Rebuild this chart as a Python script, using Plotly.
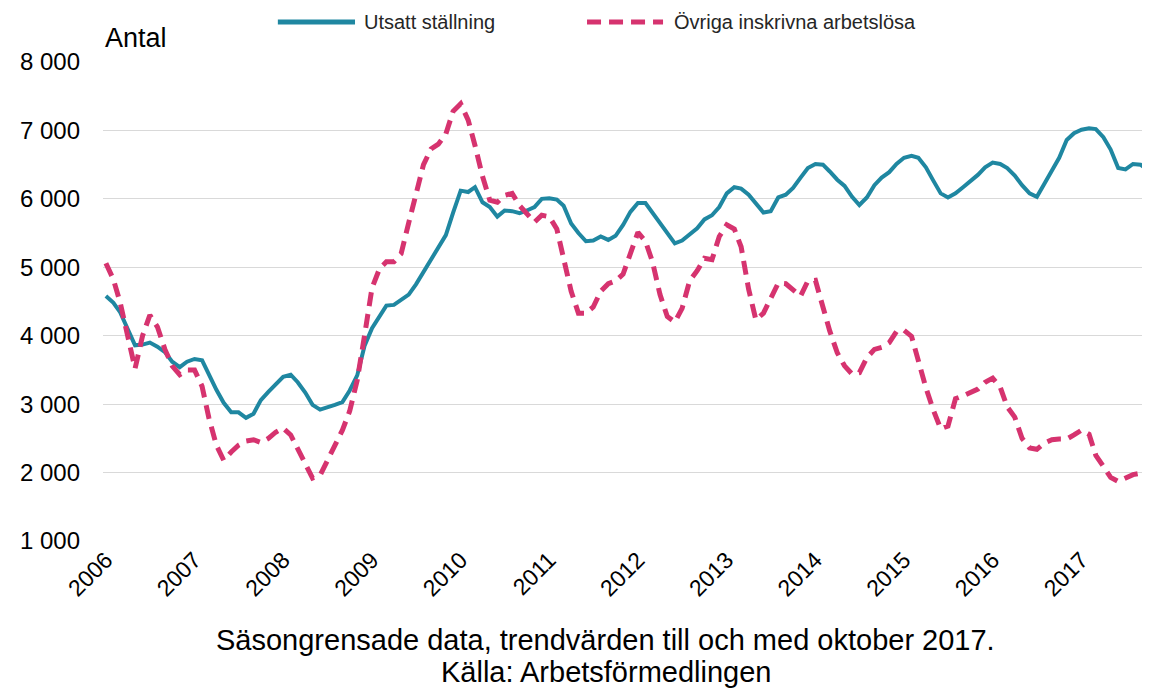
import pandas as pd
import plotly.graph_objects as go

# Monthly trend values, Jan 2006 - Oct 2017
months = pd.date_range("2006-01-01", "2017-10-01", freq="MS")

utsatt = [
    4580, 4480, 4340, 4080, 3860, 3870, 3900, 3840, 3760, 3620, 3540, 3620,  # 2006
    3660, 3640, 3420, 3210, 3020, 2880, 2880, 2800, 2860, 3060, 3180, 3280,  # 2007
    3400, 3430, 3320, 3170, 2990, 2920, 2950, 2990, 3030, 3200, 3420, 3850,  # 2008
    4110, 4290, 4440, 4450, 4530, 4600, 4750, 4930, 5110, 5290, 5470, 5800,  # 2009
    6120, 6100, 6170, 5950, 5880, 5740, 5830, 5820, 5790, 5830, 5880, 6000,  # 2010
    6010, 5990, 5900, 5640, 5500, 5380, 5390, 5450, 5400, 5460, 5620, 5810,  # 2011
    5940, 5940, 5800, 5650, 5490, 5350, 5390, 5480, 5570, 5700, 5760, 5880,  # 2012
    6080, 6170, 6150, 6060, 5930, 5800, 5820, 6020, 6060, 6160, 6310, 6450,  # 2013
    6510, 6500, 6400, 6280, 6190, 6030, 5910, 6020, 6200, 6310, 6390, 6510,  # 2014
    6600, 6630, 6600, 6460, 6270, 6080, 6020, 6080, 6170, 6250, 6350, 6460,  # 2015
    6530, 6510, 6450, 6340, 6200, 6080, 6030, 6220, 6400, 6600, 6860, 6960,  # 2016
    7010, 7030, 7020, 6900, 6720, 6450, 6430, 6510, 6500, 6420,              # 2017
]

ovriga = [
    5060, 4820, 4480, 4000, 3520, 4000, 4300, 4130, 3800, 3560, 3430, 3500,  # 2006
    3500, 3260, 2800, 2400, 2180, 2300, 2400, 2460, 2480, 2440, 2500, 2590,  # 2007
    2650, 2550, 2350, 2150, 1920, 1960, 2180, 2420, 2620, 2900, 3350, 4000,  # 2008
    4700, 4980, 5080, 5080, 5200, 5650, 6080, 6500, 6730, 6800, 6950, 7280,  # 2009
    7390, 7150, 6780, 6330, 5980, 5950, 6050, 6080, 5900, 5780, 5660, 5760,  # 2010
    5740, 5560, 5090, 4650, 4330, 4330, 4420, 4650, 4760, 4800, 4900, 5220,  # 2011
    5510, 5380, 5080, 4600, 4280, 4200, 4400, 4800, 4950, 5130, 5110, 5450,  # 2012
    5620, 5560, 5300, 4680, 4230, 4330, 4550, 4770, 4760, 4680, 4580, 4800,  # 2013
    4810, 4420, 4070, 3750, 3560, 3440, 3460, 3680, 3800, 3830, 3900, 4060,  # 2014
    4080, 3990, 3620, 3240, 2920, 2640, 2680, 3080, 3120, 3160, 3220, 3320,  # 2015
    3380, 3250, 2960, 2810, 2500, 2360, 2340, 2430, 2480, 2490, 2490, 2550,  # 2016
    2620, 2560, 2250, 2090, 1930, 1870, 1920, 1970, 1990, 1960,              # 2017
]

y_ticks = [1000, 2000, 3000, 4000, 5000, 6000, 7000, 8000]
y_labels = ["1 000", "2 000", "3 000", "4 000", "5 000", "6 000", "7 000", "8 000"]

BLUE = "#1f87a1"
PINK = "#d6336f"
FONT = "Liberation Sans, Arial, sans-serif"

fig = go.Figure()

fig.add_trace(go.Scatter(
    x=months, y=utsatt, name="Utsatt ställning", mode="lines",
    line=dict(color=BLUE, width=4),
))
fig.add_trace(go.Scatter(
    x=months, y=ovriga, name="Övriga inskrivna arbetslösa", mode="lines",
    line=dict(color=PINK, width=5, dash="14px,8px"),
))

# Legend drawn by hand so the line samples get the long look of the original
fig.add_shape(type="line", xref="paper", yref="paper",
              x0=0.167, x1=0.2407, y0=1.0835, y1=1.0835,
              line=dict(color=BLUE, width=5))
fig.add_annotation(text="Utsatt ställning", xref="paper", yref="paper",
                   x=0.2474, y=1.0835, xanchor="left", yanchor="middle",
                   showarrow=False, font=dict(size=20, color="#262626"))
fig.add_shape(type="line", xref="paper", yref="paper",
              x0=0.4623, x1=0.5349, y0=1.0835, y1=1.0835,
              line=dict(color=PINK, width=5, dash="14px,8px"))
fig.add_annotation(text="Övriga inskrivna arbetslösa", xref="paper", yref="paper",
                   x=0.5435, y=1.0835, xanchor="left", yanchor="middle",
                   showarrow=False, font=dict(size=20, color="#262626"))

# Unit label and notes
fig.add_annotation(text="Antal", xref="paper", yref="paper",
                   x=0.0, y=1.05, xanchor="left", yanchor="middle",
                   showarrow=False, font=dict(size=27, color="#000000"))
fig.add_annotation(text="Säsongrensade data, trendvärden till och med oktober 2017.",
                   xref="paper", yref="paper", x=0.4804, y=-0.2067,
                   xanchor="center", yanchor="middle",
                   showarrow=False, font=dict(size=29, color="#000000"))
fig.add_annotation(text="Källa: Arbetsförmedlingen",
                   xref="paper", yref="paper", x=0.4804, y=-0.2735,
                   xanchor="center", yanchor="middle",
                   showarrow=False, font=dict(size=29, color="#000000"))

# page body adds an 8px offset, so the figure is sized to fit the window
fig.update_layout(
    width=1142, height=681,
    margin=dict(l=95, r=0, t=54, b=148),
    plot_bgcolor="white", paper_bgcolor="white",
    showlegend=False,
    font=dict(family=FONT, size=20, color="#000000"),
)

fig.update_xaxes(
    type="date",
    range=["2005-12-20", "2017-10-10"],
    tick0="2006-01-01", dtick="M12", tickformat="%Y",
    tickangle=-45, tickfont=dict(size=23),
    showgrid=False, zeroline=False, showline=False, ticks="",
)
fig.update_yaxes(
    range=[1000, 8000],
    tickvals=y_ticks, ticktext=y_labels,
    tickfont=dict(size=24),
    ticklabelstandoff=22,
    showgrid=True, gridcolor="#d9d9d9", gridwidth=1,
    zeroline=False, showline=False, ticks="",
)

fig.write_html("out.html")
